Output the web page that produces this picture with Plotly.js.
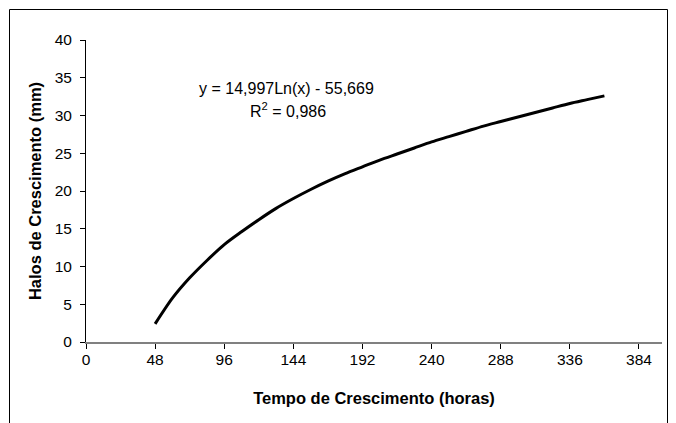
<!DOCTYPE html>
<html>
<head>
<meta charset="utf-8">
<script src="https://cdn.plot.ly/plotly-3.0.1.min.js"></script>
<style>html,body{margin:0;padding:0;background:#fff;}#chart{width:676px;height:423px;}</style>
</head>
<body>
<div id="chart"></div>
<script>
// Values (hours vs. halo size in mm)
const hours = [48, 60, 72, 84, 96, 108, 120, 132, 144, 156, 168, 180, 192, 204, 216, 228, 240, 252, 264, 276, 288, 300, 312, 324, 336, 348, 360];
const halos = [2.4, 5.8, 8.5, 10.8, 12.9, 14.6, 16.2, 17.7, 19.0, 20.2, 21.3, 22.3, 23.2, 24.1, 24.9, 25.7, 26.5, 27.2, 27.9, 28.6, 29.2, 29.8, 30.4, 31.0, 31.6, 32.1, 32.6];
const xTicks = [0, 48, 96, 144, 192, 240, 288, 336, 384];
const yTicks = [0, 5, 10, 15, 20, 25, 30, 35, 40];
const equationText = 'y = 14,997Ln(x) - 55,669';
const r2Text = 'R<sup>2</sup> = 0,986';
const xTitle = 'Tempo de Crescimento (horas)';
const yTitle = 'Halos de Crescimento (mm)';

const W = 676, H = 423;
const L = 86, R = 662, T = 40, B = 342;
const pw = R - L, ph = B - T;
const px = v => (v - L) / pw;
const py = v => (B - v) / ph;

const trace = {
  x: hours, y: halos, type: 'scatter', mode: 'lines',
  line: {color: '#000', width: 3, shape: 'spline', smoothing: 0.8},
  hoverinfo: 'skip', showlegend: false
};

const fam = 'Liberation Sans, Arial, sans-serif';
const tickFont = {family: fam, size: 15.5, color: '#000'};
const annFont = {family: fam, size: 16, color: '#000'};
const titleFont = {family: fam, size: 16.5, color: '#000'};

const layout = {
  width: W, height: H,
  margin: {l: L, r: W - R, t: T, b: H - B, pad: 0},
  paper_bgcolor: '#fff', plot_bgcolor: '#fff',
  font: tickFont,
  showlegend: false,
  xaxis: {
    range: [0, 400], tickvals: xTicks, ticktext: xTicks.map(String),
    showgrid: false, zeroline: false,
    showline: true, linecolor: '#808080', linewidth: 2,
    ticks: 'outside', ticklen: 5, tickcolor: '#000', tickwidth: 1,
    ticklabelstandoff: -3,
    tickfont: tickFont,
    title: {text: '<b>' + xTitle + '</b>', font: titleFont, standoff: 26}
  },
  yaxis: {
    range: [0, 40], tickvals: yTicks, ticktext: yTicks.map(String),
    showgrid: false, zeroline: false,
    showline: true, linecolor: '#000', linewidth: 1,
    ticks: 'outside', ticklen: 5, tickcolor: '#000', tickwidth: 1,
    ticklabelstandoff: 5,
    tickfont: tickFont,
    title: {text: '<b>' + yTitle + '</b>', font: titleFont, standoff: 8}
  },
  annotations: [
    {text: equationText, xref: 'x', yref: 'y', x: 139, y: 33.6, showarrow: false,
     font: annFont, xanchor: 'center', yanchor: 'middle'},
    {text: r2Text, xref: 'x', yref: 'y', x: 140, y: 30.7, showarrow: false,
     font: annFont, xanchor: 'center', yanchor: 'middle'}
  ],
  shapes: [
    {type: 'rect', xref: 'paper', yref: 'paper',
     x0: px(9.5), x1: px(667.5), y0: py(440), y1: py(9.5),
     line: {color: '#000', width: 1}, fillcolor: 'rgba(0,0,0,0)', layer: 'below'}
  ]
};

Plotly.newPlot('chart', [trace], layout, {staticPlot: true, displayModeBar: false});
</script>
</body>
</html>
